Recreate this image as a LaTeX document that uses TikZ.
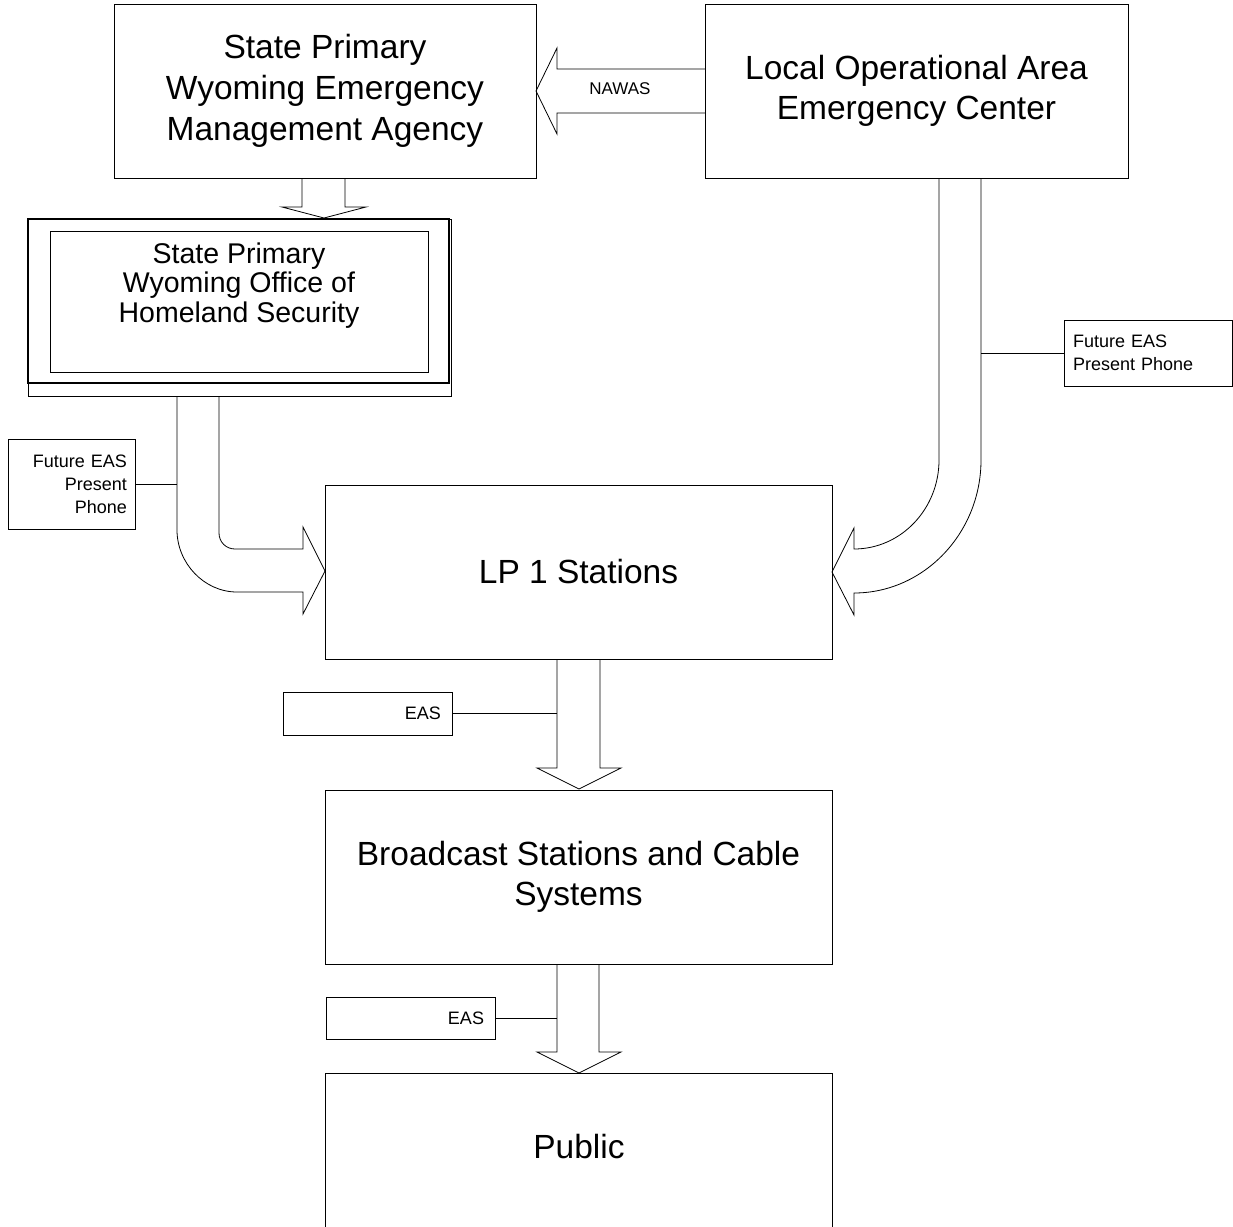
\documentclass[tikz,border=0pt]{standalone}
\usepackage{fontspec}
\setmainfont{Liberation Sans}
\begin{document}
\begin{tikzpicture}[x=1pt,y=-1pt,
  line join=miter,
  box/.style={draw=black,line width=0.9pt,rectangle,inner sep=0pt,align=center},
  bigtxt/.style={font=\fontsize{33.5}{41}\selectfont},
  midtxt/.style={font=\fontsize{28.5}{29.5}\selectfont},
  blockarrow/.style={draw=black,line width=0.8pt,fill=white},
  callout/.style={draw=black,line width=0.8pt,rectangle,inner ysep=0pt,font=\fontsize{18}{23}\selectfont},
  link/.style={draw=black,line width=0.8pt}]
\useasboundingbox (0,0) rectangle (1233,1226);

% block arrows (drawn first)
\draw[blockarrow] (302,178) -- (302,207) -- (282,207) -- (324,218) -- (366,207) -- (345,207) -- (345,178);
\draw[blockarrow] (705,69) -- (557,69) -- (557,48) -- (536,91) -- (557,134) -- (557,113) -- (705,113);
\draw[blockarrow] (939,178) -- (939,460) .. controls (939,509) and (901,549) .. (854,549) -- (854,528) -- (832,572) -- (854,615) -- (854,593) .. controls (924,593) and (981,533) .. (981,460) -- (981,178);
\draw[blockarrow] (219,396) -- (219,533) .. controls (219,542) and (226,549) .. (235,549) -- (303,549) -- (303,527) -- (325,571) -- (303,614) -- (303,592) -- (237,592) .. controls (204,592) and (177,563) .. (177,530) -- (177,396);
\draw[blockarrow] (557,659) -- (557,768) -- (537,768) -- (579,789) -- (621,768) -- (600,768) -- (600,659);
\draw[blockarrow] (557,964) -- (557,1052) -- (537,1052) -- (579,1073) -- (621,1052) -- (599,1052) -- (599,964);
\node[font=\fontsize{17}{20}\selectfont] (nawas) at (620,89) {NAWAS};

% main boxes
\node[box,bigtxt,minimum width=422,minimum height=174] (spwema) at (325,91)
  {State Primary\\Wyoming Emergency\\Management Agency};
\node[box,font=\fontsize{33.5}{40}\selectfont,minimum width=423,minimum height=174] (local) at (916.5,91)
  {Local Operational Area\\Emergency Center};

% office box
\draw[draw=black!45,line width=0.8pt] (451,219) -- (451,396);
\node[box,line width=0.8pt,minimum width=423,minimum height=177] (officebase) at (239.5,307.5) {};
\node[box,line width=2.4pt,minimum width=421,minimum height=164] (officeouter) at (238.5,301) {};
\node[box,line width=1pt,minimum width=378,minimum height=141] (officeinner) at (239,301.5) {};
\node[midtxt,align=center,inner sep=0pt] (officetxt) at (239,285.5)
  {State Primary\\Wyoming Office of\\Homeland Security};

\node[box,bigtxt,minimum width=507,minimum height=174] (lp1) at (578.5,572) {LP 1 Stations};
\node[box,font=\fontsize{33.5}{40}\selectfont,minimum width=507,minimum height=174] (bcast) at (578.5,877)
  {Broadcast Stations and Cable\\Systems};
\draw[draw=black,line width=0.9pt] (325,1230) -- (325,1073) -- (832,1073) -- (832,1230);
\node[bigtxt,inner sep=0pt] (public) at (579,1147) {Public};

% callouts
\node[callout,minimum width=168,minimum height=66,inner xsep=9pt,text width=150,align=left] (fe1) at (1148,353)
  {Future EAS\\Present Phone};
\coordinate (fe1j) at (981,353);
\draw[link] (fe1j) -- (fe1.west);

\node[callout,minimum width=127,minimum height=90,inner xsep=8pt,text width=111,align=right] (fe2) at (71.5,484)
  {Future EAS\\Present\\Phone};
\coordinate (fe2j) at (177,484);
\draw[link] (fe2.east) -- (fe2j);

\node[callout,minimum width=169,minimum height=43,inner xsep=11pt,text width=147,align=right] (eas1) at (367.5,713.5) {EAS};
\coordinate (eas1j) at (557,713.5);
\draw[link] (eas1.east) -- (eas1j);

\node[callout,minimum width=169,minimum height=42,inner xsep=11pt,text width=147,align=right] (eas2) at (410.5,1018) {EAS};
\coordinate (eas2j) at (557,1018);
\draw[link] (eas2.east) -- (eas2j);
\end{tikzpicture}
\end{document}
